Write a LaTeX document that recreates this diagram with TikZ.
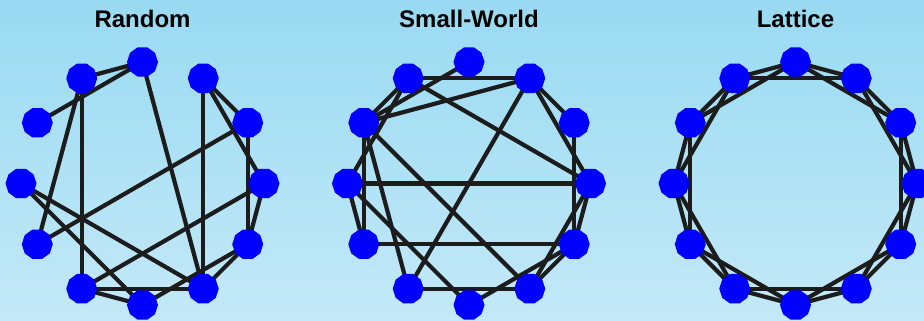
\documentclass[tikz,border=0pt]{standalone}
\usepackage{fontspec}
\setmainfont{Liberation Sans}
\usetikzlibrary{shapes.geometric}
\pgfdeclarelayer{bg}
\pgfdeclarelayer{edges}
\pgfsetlayers{bg,edges,main}
\definecolor{nodeblue}{RGB}{0,0,255}
\definecolor{edgegray}{RGB}{28,28,28}
\definecolor{bgtop}{RGB}{152,218,242}
\definecolor{bgbot}{RGB}{196,233,248}
\tikzset{
  vtx/.style={regular polygon, regular polygon sides=10, fill=nodeblue, draw=none, inner sep=0pt, minimum size=31pt},
  edg/.style={draw=edgegray, line width=4.2pt},
  ttl/.style={font=\bfseries\fontsize{24}{28}\selectfont, anchor=base, inner sep=0pt}
}
\begin{document}
\begin{tikzpicture}[x=1pt,y=1pt]
\useasboundingbox (0,0) rectangle (924,321);
\begin{pgfonlayer}{bg}
  \shade[top color=bgtop, bottom color=bgbot] (0,0) rectangle (924,321);
\end{pgfonlayer}
\node[ttl] (tr) at (142.5,293) {Random};
\node[ttl] (ts) at (469,293) {Small-World};
\node[ttl] (tl) at (795.5,293) {Lattice};
\foreach \k in {0,...,11} {
  \node[vtx] (r\k) at ({142.5+121.5*cos(90-30*\k)},{137.5+121.5*sin(90-30*\k)}) {};
  \node[vtx] (s\k) at ({469+121.5*cos(90-30*\k)},{137.5+121.5*sin(90-30*\k)}) {};
  \node[vtx] (l\k) at ({795.5+121.5*cos(90-30*\k)},{137.5+121.5*sin(90-30*\k)}) {};
}
\begin{pgfonlayer}{edges}
  % Random
  \foreach \a/\b in {11/0,10/0,11/7,11/8,0/5,1/5,1/2,1/3,2/4,2/8,3/4,3/7,9/5,9/6,4/5,4/6,7/5,7/6}
    \draw[edg] (r\a.center) -- (r\b.center);
  % Small-World
  \foreach \a/\b in {11/1,11/10,11/9,11/3,0/10,1/10,1/2,1/3,1/7,2/4,3/9,3/4,3/5,4/8,4/5,4/6,5/7,5/10,6/9,7/10,8/10,8/9}
    \draw[edg] (s\a.center) -- (s\b.center);
  % Lattice
  \foreach \a/\b/\c in {0/1/2,1/2/3,2/3/4,3/4/5,4/5/6,5/6/7,6/7/8,7/8/9,8/9/10,9/10/11,10/11/0,11/0/1} {
    \draw[edg] (l\a.center) -- (l\b.center);
    \draw[edg] (l\a.center) -- (l\c.center);
  }
\end{pgfonlayer}
\end{tikzpicture}
\end{document}
